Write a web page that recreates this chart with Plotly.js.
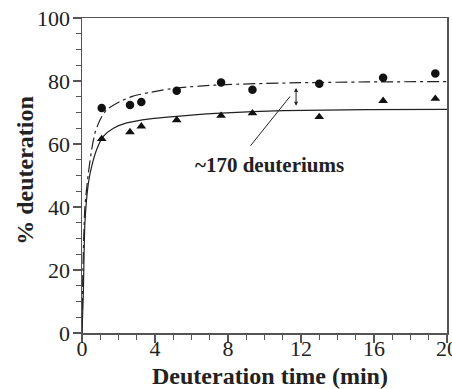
<!DOCTYPE html>
<html>
<head>
<meta charset="utf-8">
<script src="https://cdn.plot.ly/plotly-3.0.1.min.js"></script>
<style>html,body{margin:0;padding:0;background:#fff;}#chart{width:452px;height:389px;}</style>
</head>
<body>
<div id="chart"></div>
<script>
// Measured points
const timeMin = [1.08, 2.63, 3.25, 5.19, 7.62, 9.34, 13.0, 16.5, 19.36];
const circleValues = [71.4, 72.4, 73.3, 76.9, 79.5, 77.2, 79.1, 81.0, 82.4];
const triangleValues = [61.6, 63.8, 65.6, 67.6, 69.0, 69.8, 68.6, 73.7, 74.4];

// Fitted curves
const dashCurveX = [0, 0.05, 0.16, 0.35, 0.53, 0.71, 0.99, 1.35, 2.08, 2.8, 3.73, 5.19, 7.62, 11.4, 15.6, 20];
const dashCurveY = [0, 20, 40.2, 50.8, 58.2, 63.5, 67.7, 70.9, 73.5, 75.2, 76.4, 77.8, 78.8, 79.4, 79.7, 79.8];
const solidCurveX = [0, 0.07, 0.16, 0.35, 0.53, 0.8, 1.17, 1.72, 2.45, 3.73, 5.19, 7.62, 11.03, 15.6, 20];
const solidCurveY = [0, 12, 35, 47.6, 52.9, 58.2, 62.4, 65, 66.7, 68, 68.8, 69.8, 70.6, 70.9, 71.0];

const xTicks = [0, 4, 8, 12, 16, 20];
const yTicks = [0, 20, 40, 60, 80, 100];
const labelText = "~170 deuteriums";
const xTitle = "Deuteration time (min)";
const yTitle = "% deuteration";

const serif = "Liberation Serif, Times New Roman, serif";

const traces = [
  {x: dashCurveX, y: dashCurveY, mode: 'lines', line: {color: '#222', width: 1.2, dash: '12px,4px,3px,4px', shape: 'spline', smoothing: 0.6}, hoverinfo: 'skip'},
  {x: solidCurveX, y: solidCurveY, mode: 'lines', line: {color: '#222', width: 1.2, shape: 'spline', smoothing: 0.6}, hoverinfo: 'skip'},
  {x: timeMin, y: circleValues, mode: 'markers', marker: {symbol: 'circle', size: 8.5, color: '#111'}},
  {x: timeMin, y: triangleValues, mode: 'markers', marker: {symbol: 'triangle-up', size: 8.5, color: '#111'}}
];

const axisCommon = {
  showgrid: false, zeroline: false, showline: true, linecolor: '#555', linewidth: 1.5,
  mirror: true, ticks: 'outside', ticklen: 8, tickwidth: 1.2, tickcolor: '#555',
  ticklabeloverflow: 'allow',
  tickfont: {family: serif, size: 22, color: '#222'}
};

const layout = {
  width: 452, height: 389,
  margin: {l: 82, r: 5, t: 18, b: 56},
  paper_bgcolor: '#fff', plot_bgcolor: '#fff',
  showlegend: false,
  xaxis: Object.assign({}, axisCommon, {
    range: [0, 20], tickvals: xTicks, ticktext: xTicks.map(String),
    ticklabelstandoff: -13,
    minor: {dtick: 1, ticks: 'outside', ticklen: 5, tickcolor: '#555', tickwidth: 1}
  }),
  yaxis: Object.assign({}, axisCommon, {
    range: [0, 100], tickvals: yTicks, ticktext: yTicks.map(String),
    ticklabelstandoff: -2,
    minor: {dtick: 5, ticks: 'outside', ticklen: 5, tickcolor: '#555', tickwidth: 1}
  }),
  annotations: [
    {x: 0.515, y: -0.136, xref: 'paper', yref: 'paper', xanchor: 'center', yanchor: 'middle',
     text: '<b>' + xTitle + '</b>', showarrow: false, font: {family: serif, size: 24, color: '#222'}},
    {x: -0.156, y: 0.515, xref: 'paper', yref: 'paper', xanchor: 'center', yanchor: 'middle', textangle: -90,
     text: '<b>' + yTitle + '</b>', showarrow: false, font: {family: serif, size: 24, color: '#222'}},
    {x: 10.3, y: 53.4, xref: 'x', yref: 'y', text: '<b>' + labelText + '</b>', showarrow: false,
     font: {family: serif, size: 21, color: '#222'}},
    {x: 11.4, y: 75.1, ax: 9.17, ay: 59.0, axref: 'x', ayref: 'y', xref: 'x', yref: 'y', text: '',
     showarrow: true, arrowhead: 0, arrowwidth: 1, arrowcolor: '#222'},
    {x: 11.73, y: 77.8, ax: 11.73, ay: 71.7, axref: 'x', ayref: 'y', xref: 'x', yref: 'y', text: '',
     showarrow: true, arrowhead: 2, arrowside: 'end+start', arrowsize: 0.8, arrowwidth: 1, arrowcolor: '#222'}
  ]
};

Plotly.newPlot('chart', traces, layout, {displayModeBar: false, staticPlot: true});
</script>
</body>
</html>
